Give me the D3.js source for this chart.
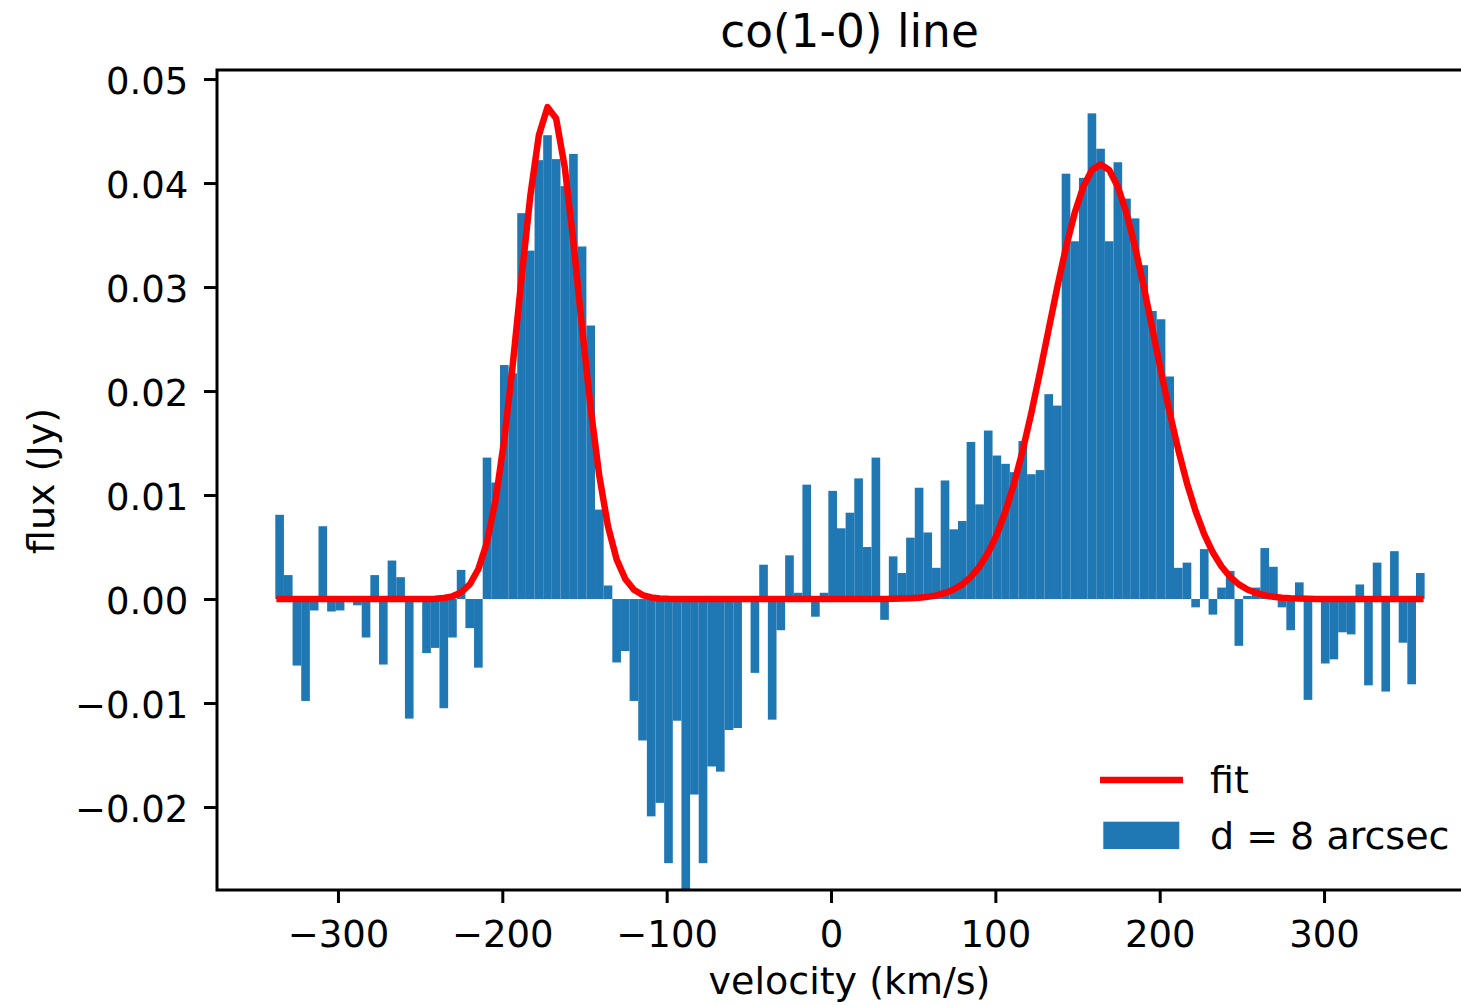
<!DOCTYPE html>
<html>
<head>
<meta charset="utf-8">
<script src="https://cdn.jsdelivr.net/npm/d3@7"></script>
<style>
  html, body { margin: 0; padding: 0; background: #ffffff; }
  svg { display: block; }
  text { font-family: "DejaVu Sans", sans-serif; fill: #000; }
</style>
</head>
<body>
<svg id="chart" width="1461" height="1005"></svg>
<script>
// Spectral axis of the cube: centre of the first channel and channel width (km/s)
const channelStart = -335.5;
const channelWidth = 5.258;

// Integrated flux per channel inside the d = 8 arcsec aperture (Jy)
const flux = [
  0.0081, 0.0023, -0.0064, -0.0098, -0.0011, 0.0070, -0.0012, -0.0011, -0.0002, -0.0006,
  -0.0037, 0.0023, -0.0063, 0.0037, 0.0021, -0.0115, -0.0001, -0.0052, -0.0047, -0.0105,
  -0.0037, 0.0028, -0.0028, -0.0066, 0.0136, 0.0112, 0.0225, 0.0217, 0.0371, 0.0335,
  0.0422, 0.0446, 0.0423, 0.0397, 0.0428, 0.0339, 0.0263, 0.0086, 0.0013, -0.0061,
  -0.0050, -0.0098, -0.0136, -0.0209, -0.0196, -0.0254, -0.0117, -0.0285, -0.0188, -0.0254,
  -0.0161, -0.0166, -0.0126, -0.0124, -0.0001, -0.0071, 0.0033, -0.0116, -0.0030, 0.0042,
  0.0006, 0.0110, -0.0017, 0.0006, 0.0104, 0.0068, 0.0083, 0.0116, 0.0050, 0.0136,
  -0.0020, 0.0041, 0.0025, 0.0059, 0.0107, 0.0064, 0.0030, 0.0114, 0.0067, 0.0075,
  0.0151, 0.0091, 0.0162, 0.0138, 0.0130, 0.0122, 0.0152, 0.0120, 0.0124, 0.0197,
  0.0186, 0.0409, 0.0344, 0.0405, 0.0467, 0.0433, 0.0344, 0.0420, 0.0385, 0.0366,
  0.0321, 0.0277, 0.0269, 0.0214, 0.0030, 0.0035, -0.0008, 0.0048, -0.0015, 0.0011,
  0.0027, -0.0045, 0.0003, 0.0011, 0.0049, 0.0031, -0.0008, -0.0030, 0.0016, -0.0097,
  0.0001, -0.0062, -0.0058, -0.0032, -0.0034, 0.0014, -0.0083, 0.0035, -0.0089, 0.0046,
  -0.0042, -0.0082, 0.0025
];

// Double-Gaussian fit evaluated on the same channels (Jy)
const fit = [
  0, 0, 0, 0, 0, 0, 0, 0, 0, 0,
  0, 0, 0, 0, 0, 0, 0, 0.00001, 0.00003, 0.0001,
  0.00026, 0.00063, 0.0014, 0.00289, 0.00547, 0.00956, 0.01536, 0.0227, 0.0309, 0.0387,
  0.0446, 0.0473, 0.0462, 0.0415, 0.0343, 0.0261, 0.0183, 0.0118, 0.00699, 0.00381,
  0.00192, 0.00089, 0.00038, 0.00015, 0.00005, 0.00002, 0.00001, 0, 0, 0,
  0, 0, 0, 0, 0, 0, 0, 0, 0, 0,
  0, 0, 0, 0, 0, 0, 0, 0, 0, 0.00001,
  0.00001, 0.00002, 0.00004, 0.00007, 0.00012, 0.00021, 0.00035, 0.00058, 0.00091, 0.00141,
  0.00213, 0.00313, 0.00447, 0.00622, 0.00844, 0.01114, 0.01432, 0.01793, 0.02186, 0.02596,
  0.03003, 0.03383, 0.03711, 0.03965, 0.04125, 0.0418, 0.04125, 0.03965, 0.03711, 0.03383,
  0.03003, 0.02596, 0.02186, 0.01793, 0.01432, 0.01114, 0.00844, 0.00622, 0.00447, 0.00313,
  0.00213, 0.00141, 0.00091, 0.00058, 0.00035, 0.00021, 0.00012, 0.00007, 0.00004, 0.00002,
  0.00001, 0.00001, 0, 0, 0, 0, 0, 0, 0, 0,
  0, 0, 0
];

const xTicks = [-300, -200, -100, 0, 100, 200, 300];
const yTicks = [-0.02, -0.01, 0.00, 0.01, 0.02, 0.03, 0.04, 0.05];

const titleText = "co(1-0) line";
const xLabel = "velocity (km/s)";
const yLabel = "flux (Jy)";
const legendLabels = ["fit", "d = 8 arcsec"];

// channel centres on the spectral axis
const velocity = flux.map((_, i) => channelStart + i * channelWidth);
const spectrum = velocity.map((v, i) => ({ v, flux: flux[i], fit: fit[i] }));

const barColor = "#1f77b4";
const fitColor = "#ff0000";
const tickFont = 37;
const labelFont = 38;

const svg = d3.select("#chart");

const plot = { left: 217, right: 1482, top: 70, bottom: 890 };

const x = d3.scaleLinear().domain([-373.6, 396.1]).range([plot.left, plot.right]);
const y = d3.scaleLinear().domain([-0.02798, 0.05087]).range([plot.bottom, plot.top]);

svg.append("defs").append("clipPath").attr("id", "plot-area")
  .append("rect")
  .attr("x", plot.left).attr("y", plot.top)
  .attr("width", plot.right - plot.left).attr("height", plot.bottom - plot.top);

// bars, centred on each channel
svg.append("g").attr("clip-path", "url(#plot-area)")
  .selectAll("rect")
  .data(spectrum)
  .join("rect")
  .attr("x", d => x(d.v - channelWidth / 2))
  .attr("width", d => x(d.v + channelWidth / 2) - x(d.v - channelWidth / 2))
  .attr("y", d => y(Math.max(0, d.flux)))
  .attr("height", d => Math.abs(y(d.flux) - y(0)))
  .attr("fill", barColor);

// fitted profile
const line = d3.line().x(d => x(d.v)).y(d => y(d.fit));
svg.append("path")
  .datum(spectrum)
  .attr("d", line)
  .attr("fill", "none")
  .attr("stroke", fitColor)
  .attr("stroke-width", 6.5)
  .attr("stroke-linecap", "square")
  .attr("stroke-linejoin", "round");

// axes
const xAxis = d3.axisBottom(x).tickValues(xTicks).tickFormat(d3.format("d"))
  .tickSize(13).tickPadding(0);
const gx = svg.append("g").attr("transform", `translate(0,${plot.bottom})`).call(xAxis);
gx.select(".domain").remove();
gx.selectAll(".tick line").attr("stroke", "#000").attr("stroke-width", 3);
gx.selectAll(".tick text")
  .attr("y", 56.7).attr("dy", null)
  .style("font-size", tickFont + "px")
  .style("font-family", "'DejaVu Sans', sans-serif");

const yAxis = d3.axisLeft(y).tickValues(yTicks).tickFormat(d3.format(".2f"))
  .tickSize(13).tickPadding(15.7);
const gy = svg.append("g").attr("transform", `translate(${plot.left},0)`).call(yAxis);
gy.select(".domain").remove();
gy.selectAll(".tick line").attr("stroke", "#000").attr("stroke-width", 3);
gy.selectAll(".tick text")
  .attr("dy", "0.39em")
  .style("font-size", tickFont + "px")
  .style("font-family", "'DejaVu Sans', sans-serif");

// frame
svg.append("rect")
  .attr("x", plot.left).attr("y", plot.top)
  .attr("width", plot.right - plot.left).attr("height", plot.bottom - plot.top)
  .attr("fill", "none").attr("stroke", "#000").attr("stroke-width", 3);

// title and axis labels
svg.append("text")
  .attr("x", (plot.left + plot.right) / 2).attr("y", 47)
  .attr("text-anchor", "middle")
  .style("font-size", "45.4px")
  .text(titleText);

svg.append("text")
  .attr("x", (plot.left + plot.right) / 2).attr("y", 994)
  .attr("text-anchor", "middle")
  .style("font-size", labelFont + "px")
  .text(xLabel);

svg.append("text")
  .attr("transform", "translate(53.5,481) rotate(-90)")
  .attr("text-anchor", "middle")
  .style("font-size", labelFont + "px")
  .text(yLabel);

// legend
const legend = svg.append("g");
legend.append("line")
  .attr("x1", 1100).attr("x2", 1183).attr("y1", 780).attr("y2", 780)
  .attr("stroke", fitColor).attr("stroke-width", 6.5);
legend.append("text").attr("x", 1210).attr("y", 793.3)
  .style("font-size", labelFont + "px").text(legendLabels[0]);
legend.append("rect")
  .attr("x", 1103.3).attr("y", 821.7).attr("width", 76).attr("height", 27.3)
  .attr("fill", barColor);
legend.append("text").attr("x", 1210).attr("y", 849)
  .style("font-size", labelFont + "px").text(legendLabels[1]);
</script>
</body>
</html>
